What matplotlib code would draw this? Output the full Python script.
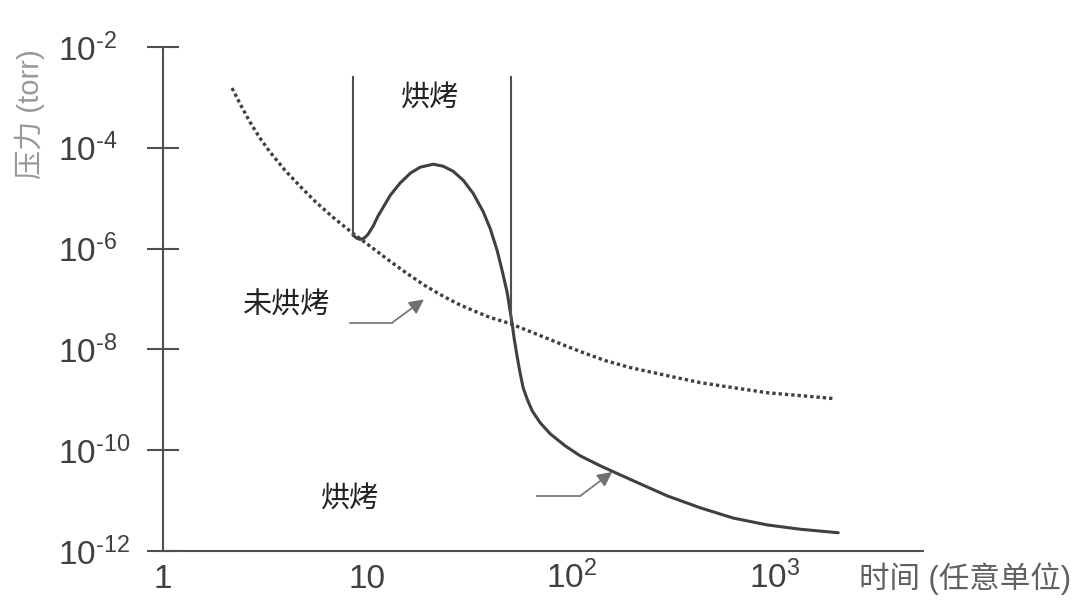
import matplotlib

matplotlib.use("Agg")
import matplotlib.pyplot as plt
from matplotlib.ticker import NullLocator

plt.rcParams["font.family"] = ["Liberation Sans", "Noto Sans CJK SC"]
plt.rcParams["mathtext.fontset"] = "custom"
plt.rcParams["mathtext.rm"] = "Liberation Sans"
plt.rcParams["mathtext.it"] = "Liberation Sans"
plt.rcParams["mathtext.bf"] = "Liberation Sans"

# unbaked system (dotted)
unbaked_t = [2.18, 2.39, 2.67, 2.99, 3.35, 3.96, 4.70, 5.56, 6.81, 8.54, 10.7,
             13.0, 15.7, 19.2, 22.8, 27.6, 33.1, 40.1, 50.2, 70.5, 88.3, 111,
             147, 195, 296, 429, 623, 914, 1326, 1968]
unbaked_p = [1.53e-3, 7.36e-4, 3.23e-4, 1.55e-4, 8.18e-5, 3.59e-5, 1.72e-5,
             8.67e-6, 4.17e-6, 2.0e-6, 1.01e-6, 5.57e-7, 3.21e-7, 1.85e-7,
             1.23e-7, 8.14e-8, 5.9e-8, 4.29e-8, 3.26e-8, 1.88e-8, 1.30e-8,
             9.04e-9, 5.99e-9, 4.35e-9, 3.01e-9, 2.19e-9, 1.74e-9, 1.38e-9,
             1.21e-9, 1.05e-9]

# baked system (solid)
baked_t = [8.54, 8.93, 9.24, 9.67, 10.1, 10.7, 11.3, 12.0, 13.0, 14.5, 16.3,
           18.2, 21.1, 23.6, 26.4, 29.6, 33.1, 37.0, 40.1, 43.4, 45.9, 48.6,
           51.4, 52.6, 54.4, 56.2, 58.2, 60.8, 64.4, 70.5, 78.9, 93.5, 111,
           139, 174, 218, 296, 429, 623, 914, 1326, 2037]
baked_p = [1.83e-6, 1.60e-6, 1.52e-6, 1.60e-6, 1.91e-6, 2.76e-6, 4.37e-6,
           6.6e-6, 1.14e-5, 1.98e-5, 3.13e-5, 4.11e-5, 4.72e-5, 4.31e-5,
           3.43e-5, 2.27e-5, 1.25e-5, 5.5e-6, 2.52e-6, 9.2e-7, 3.69e-7,
           1.35e-7, 3.26e-8, 1.64e-8, 7.2e-9, 3.46e-9, 1.74e-9, 1.05e-9,
           6.07e-10, 3.51e-10, 2.12e-10, 1.22e-10, 7.7e-11, 4.9e-11, 3.24e-11,
           2.15e-11, 1.24e-11, 7.2e-12, 4.5e-12, 3.29e-12, 2.7e-12, 2.3e-12]

# bake window boundaries
bake_start, bake_end = 8.54, 50.8
bake_top = 2.5e-3
bake_end_low = 3.4e-8

x_ticks = [1, 10, 100, 1000]
x_labels = ["1", "10", r"$10^2$", r"$10^3$"]
y_ticks = [1e-12, 1e-10, 1e-8, 1e-6, 1e-4, 1e-2]
y_labels = [r"$10^{‐12}$", r"$10^{‐10}$", r"$10^{‐8}$", r"$10^{‐6}$",
            r"$10^{‐4}$", r"$10^{‐2}$"]

line_col = "#404040"
arrow_col = "#707070"

fig = plt.figure(figsize=(10.8, 6.15), dpi=100)
ax = fig.add_axes([0.1509, 0.1041, 0.7037, 0.8195])
ax.set_xscale("log")
ax.set_yscale("log")
ax.set_xlim(1, 5300)
ax.set_ylim(1e-12, 1e-2)

ax.plot(unbaked_t, unbaked_p, color=line_col, lw=2.4,
        linestyle=(0, (1, 0.9)), dash_capstyle="butt")
ax.plot(baked_t, baked_p, color=line_col, lw=2.2,
        solid_capstyle="round", solid_joinstyle="round")

ax.plot([bake_start, bake_start], [bake_top, baked_p[0]], color="#505050", lw=1.5)
ax.plot([bake_end, bake_end], [bake_top, bake_end_low], color="#505050", lw=1.5)

# annotations
ax.text(20.4, 1.0e-3, "烘烤", fontsize=21, color="#222222",
        ha="center", va="center")
ax.text(4.05, 7.4e-8, "未烘烤", fontsize=21, color="#222222",
        ha="center", va="center")
ax.text(8.26, 1.1e-11, "烘烤", fontsize=21, color="#222222",
        ha="center", va="center")

ax.plot([8.26, 13.3], [3.41e-8, 3.41e-8], color=arrow_col, lw=1.2)
ax.annotate("", xy=(19.0, 9.8e-8), xytext=(13.3, 3.41e-8),
            arrowprops=dict(arrowstyle="-|>", color=arrow_col, lw=1.2,
                            mutation_scale=22, shrinkA=0, shrinkB=0))
ax.plot([68.1, 111], [1.24e-11, 1.24e-11], color=arrow_col, lw=1.2)
ax.annotate("", xy=(159, 3.7e-11), xytext=(111, 1.24e-11),
            arrowprops=dict(arrowstyle="-|>", color=arrow_col, lw=1.2,
                            mutation_scale=22, shrinkA=0, shrinkB=0))

# axes styling
for side in ("top", "right"):
    ax.spines[side].set_visible(False)
for side in ("left", "bottom"):
    ax.spines[side].set_color("#505050")
    ax.spines[side].set_linewidth(1.5)

ax.xaxis.set_minor_locator(NullLocator())
ax.yaxis.set_minor_locator(NullLocator())
ax.set_xticks(x_ticks)
ax.set_xticklabels(x_labels)
ax.set_yticks(y_ticks)
ax.set_yticklabels(y_labels)
ax.tick_params(axis="y", direction="inout", length=23, width=1.5,
               color="#505050", labelsize=24, labelcolor="#404040", pad=64)
ax.tick_params(axis="x", length=0, labelsize=24, labelcolor="#404040", pad=27)
for lab in ax.get_yticklabels():
    lab.set_horizontalalignment("left")
for lab in ax.get_xticklabels():
    lab.set_verticalalignment("baseline")

fig.text(0.028, 0.815, "压力 (torr)", rotation=90, fontsize=21,
         color="#999999", ha="center", va="center")
fig.text(0.8935, 0.06, "时间 (任意单位)", fontsize=22, color="#606060",
         ha="center", va="center")

fig.savefig("out.png", dpi=100)
